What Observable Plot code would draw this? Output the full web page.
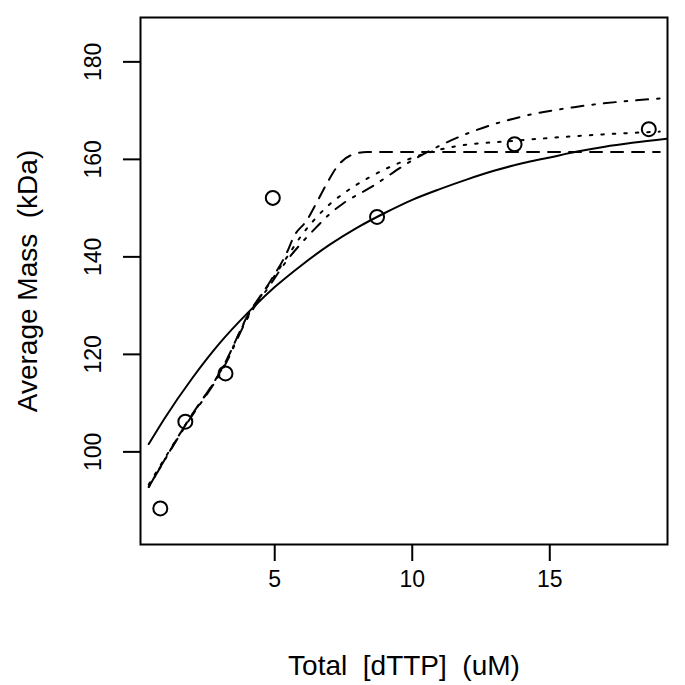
<!DOCTYPE html>
<html><head><meta charset="utf-8">
<script src="https://cdn.jsdelivr.net/npm/d3@7"></script>
<script src="https://cdn.jsdelivr.net/npm/@observablehq/plot@0.6"></script>
<style>
body{margin:0;background:#fff;}
svg text{white-space:pre;}
</style>
</head><body><div id="chart"></div>
<script>
// observed points
const obsX = [0.84, 1.75, 3.21, 4.93, 8.72, 13.72, 18.6];
const obsY = [88.4, 106.2, 116.1, 152.1, 148.2, 163.1, 166.2];
// solid fit
const solidX = [0.42, 1, 2, 3, 4, 5, 6, 7, 8, 9, 10, 11, 12, 13, 14, 15, 16, 17, 18, 19.5];
const solidY = [101.6, 106.9, 115.1, 122.3, 128.4, 133.8, 138.4, 142.5, 146.0, 149.0, 151.7, 153.9, 155.9, 157.7, 159.2, 160.4, 161.6, 162.6, 163.4, 164.4];
// dashed fit
const dashX = [0.42, 1.75, 3.21, 4.0, 4.84, 5.45, 5.69, 6.18, 6.54, 6.9, 7.27, 7.75, 8.36, 10, 14, 19];
const dashY = [92.8, 105.5, 118.4, 127.8, 135.0, 141.0, 144.1, 147.6, 151.3, 155.1, 158.5, 160.8, 161.5, 161.5, 161.5, 161.5];
// dotted fit
const dotX = [0.42, 1.75, 3.21, 4.0, 4.84, 5.45, 6.0, 6.5, 7.0, 7.5, 8.5, 10, 11.5, 13.7, 16, 19];
const dotY = [93.3, 105.5, 118.3, 127.6, 134.8, 140.0, 144.6, 148.0, 150.8, 153.0, 156.5, 160.3, 162.6, 163.8, 164.8, 165.7];
// dash-dot fit
const ddX = [0.42, 1.75, 3.21, 4.0, 4.84, 5.45, 6.0, 6.5, 7.0, 7.5, 8.5, 10, 12, 14, 16, 19];
const ddY = [92.8, 105.3, 118.0, 127.3, 134.3, 139.3, 143.0, 146.0, 148.8, 151.0, 154.3, 159.8, 165.3, 168.8, 170.8, 172.5];
// ticks
const xTicks = [5, 10, 15];
const yTicks = [100, 120, 140, 160, 180];
const xTitle = "Total  [dTTP]  (uM)";
const yTitle = "Average Mass  (kDa)";

const pts = (xs, ys) => xs.map((x, i) => ({x, y: ys[i]}));
const font = "'Liberation Sans', Arial, Helvetica, sans-serif";

const chart = Plot.plot({
  width: 685, height: 685,
  marginLeft: 140, marginRight: 18, marginTop: 17, marginBottom: 141,
  style: {fontFamily: font, fontSize: "20px", color: "#000", background: "#fff"},
  x: {domain: [0.12, 19.28]},
  y: {domain: [81, 189.1]},
  marks: [
    Plot.frame({stroke: "#000", strokeWidth: 2}),
    Plot.axisX({ticks: xTicks, tickSize: 17, tickPadding: 9, fontSize: 23, label: null, strokeWidth: 2}),
    Plot.axisY({ticks: yTicks, tickSize: 17, tickFormat: () => "", label: null, strokeWidth: 2}),
    Plot.text(yTicks, {y: d => d, text: d => String(d), frameAnchor: "left", dx: -40, rotate: -90, textAnchor: "middle", lineAnchor: "bottom", fontSize: 23}),
    Plot.text([xTitle], {frameAnchor: "bottom", dy: 130, textAnchor: "middle", lineAnchor: "bottom", fontSize: 28}),
    Plot.text([yTitle], {frameAnchor: "left", dx: -112, rotate: -90, textAnchor: "middle", lineAnchor: "middle", fontSize: 28}),
    Plot.line(pts(solidX, solidY), {x: "x", y: "y", curve: "monotone-x", stroke: "#000", strokeWidth: 2, clip: true}),
    Plot.line(pts(dashX, dashY), {x: "x", y: "y", curve: "monotone-x", stroke: "#000", strokeWidth: 2, strokeDasharray: "12,9", clip: true}),
    Plot.line(pts(dotX, dotY), {x: "x", y: "y", curve: "monotone-x", stroke: "#000", strokeWidth: 2, strokeDasharray: "2.5,9", clip: true}),
    Plot.line(pts(ddX, ddY), {x: "x", y: "y", curve: "monotone-x", stroke: "#000", strokeWidth: 2, strokeDasharray: "2.5,9,12,9", clip: true}),
    Plot.dot(pts(obsX, obsY), {x: "x", y: "y", r: 7, stroke: "#000", strokeWidth: 2, fill: "none"})
  ]
});
document.getElementById("chart").appendChild(chart);
</script>
</body></html>
